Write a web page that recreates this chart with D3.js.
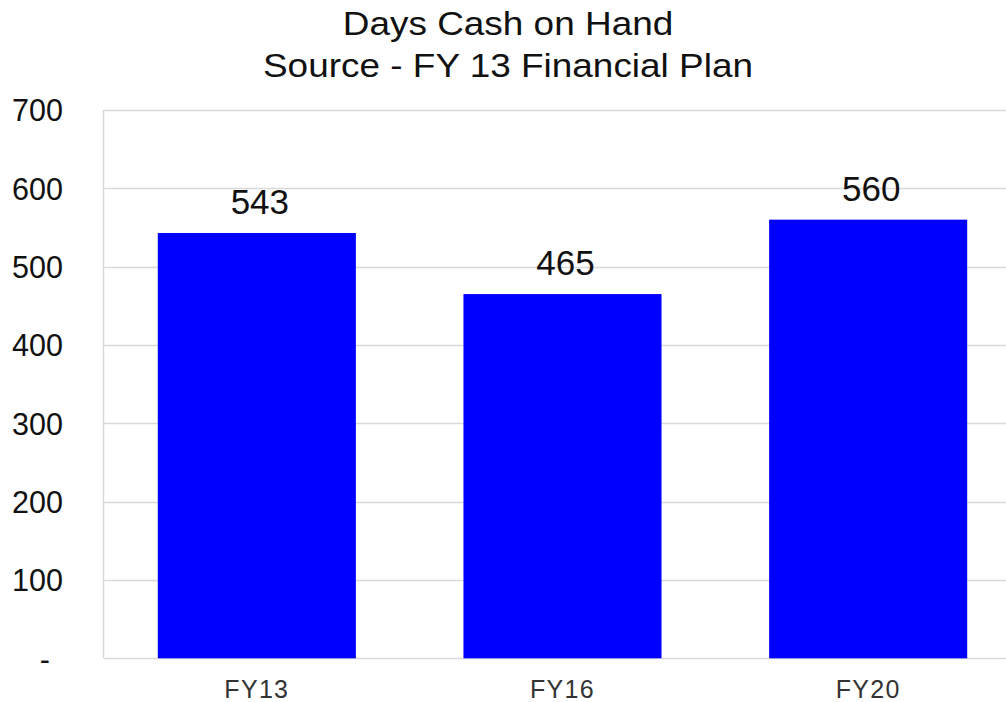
<!DOCTYPE html>
<html><head><meta charset="utf-8">
<script src="https://cdn.jsdelivr.net/npm/d3@7"></script>
<style>body{margin:0;background:#fff}svg{display:block;font-family:Arial,"Liberation Sans",sans-serif}</style>
</head><body><svg id="c" width="1006" height="702"></svg>
<script>
const categories = ["FY13", "FY16", "FY20"];
const values = [543, 465, 560];
const yTicks = [0, 100, 200, 300, 400, 500, 600, 700];
const yTickLabels = ["-", "100", "200", "300", "400", "500", "600", "700"];
const titleLines = ["Days Cash on Hand", "Source - FY 13 Financial Plan"];

const svg = d3.select("#c");
const x = d3.scaleBand().domain(categories).range([104, 1021]).paddingInner(0.352).paddingOuter(0.176);
const y = d3.scaleLinear().domain([0, 700]).range([658.3, 110]);

// gridlines
svg.append("g").selectAll("line").data(yTicks).join("line")
  .attr("x1", 104).attr("x2", 1006)
  .attr("y1", d => Math.round(y(d)) + 0.5).attr("y2", d => Math.round(y(d)) + 0.5)
  .attr("stroke", "#d9d9d9").attr("stroke-width", 1.5);
// left axis line
svg.append("line").attr("x1", 103.5).attr("x2", 103.5).attr("y1", y(700)).attr("y2", y(0))
  .attr("stroke", "#d9d9d9").attr("stroke-width", 1.5);

// y tick labels
const yAxis = d3.axisLeft(y).tickValues(yTicks).tickSize(0).tickPadding(0)
  .tickFormat((d, i) => yTickLabels[i]);
const ga = svg.append("g").attr("transform", "translate(63,0)").call(yAxis);
ga.select(".domain").remove();
ga.selectAll("text").attr("font-size", 30.5).attr("fill", "#111").attr("font-family", "Arial, 'Liberation Sans', sans-serif")
  .attr("dy", "0.36em")
  .attr("dx", d => d === 0 ? -13 : 0);

// bars
svg.append("g").selectAll("rect").data(values).join("rect")
  .attr("x", (d, i) => x(categories[i])).attr("width", x.bandwidth())
  .attr("y", d => y(d)).attr("height", d => y(0) - y(d))
  .attr("fill", "#0000ff");

// value labels
svg.append("g").selectAll("text").data(values).join("text")
  .attr("x", (d, i) => x(categories[i]) + x.bandwidth() / 2 + 3)
  .attr("y", d => y(d) - 19)
  .attr("text-anchor", "middle").attr("font-size", 35).attr("fill", "#111")
  .text(d => d);

// x labels
const xAxis = d3.axisBottom(x).tickSize(0).tickPadding(0);
const gx = svg.append("g").attr("transform", "translate(0,698)").call(xAxis);
gx.select(".domain").remove();
gx.selectAll("text").attr("font-size", 25).attr("fill", "#333").attr("dy", 0)
  .attr("font-family", "Arial, 'Liberation Sans', sans-serif").attr("letter-spacing", 1.3);

// title (reference glyphs are horizontally stretched)
svg.append("g").selectAll("text").data(titleLines).join("text")
  .attr("transform", (d, i) => `translate(508,${35 + i * 42}) scale(1.12,1)`)
  .attr("text-anchor", "middle").attr("font-size", 33).attr("fill", "#111")
  .text(d => d);
</script></body></html>
